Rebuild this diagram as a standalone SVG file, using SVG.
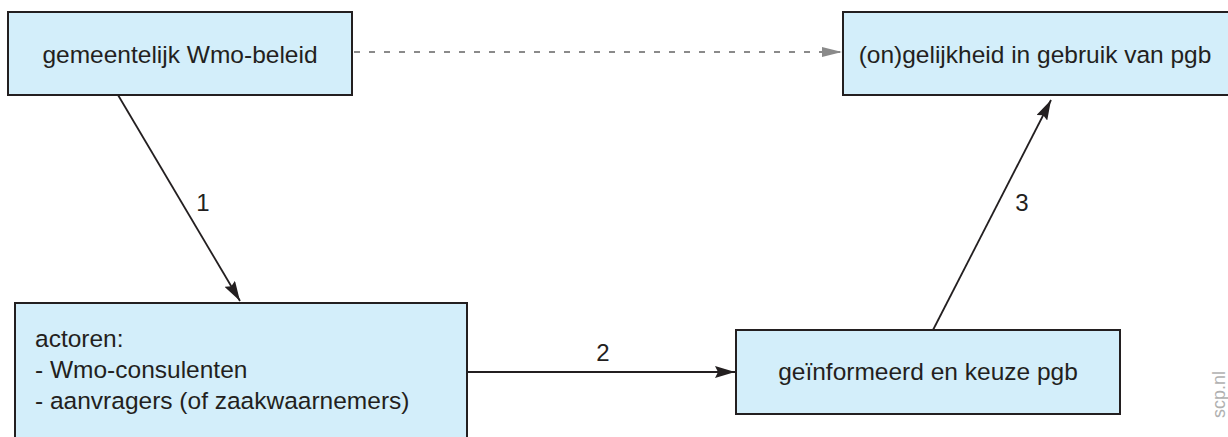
<svg xmlns="http://www.w3.org/2000/svg" width="1228" height="437" viewBox="0 0 1228 437">
<defs>
<style>
.box{fill:#d3eefa;stroke:#231f20;stroke-width:2}
.t{font-family:"Liberation Sans",Arial,sans-serif;font-size:24.5px;fill:#231f20}
.c{text-anchor:middle}
.lbl{font-family:"Liberation Sans",Arial,sans-serif;font-size:24px;fill:#231f20;text-anchor:middle}
.ln{stroke:#231f20;stroke-width:1.8;fill:none}
.dash{stroke:#8a8a8a;stroke-width:2;fill:none;stroke-dasharray:6 9}
</style>
<marker id="ah" viewBox="0 0 20 12" refX="20" refY="6" markerWidth="20" markerHeight="12" markerUnits="userSpaceOnUse" orient="auto">
<path d="M0,0 L20,6 L0,12 L3,6 Z" fill="#231f20"/>
</marker>
<marker id="ahg" viewBox="0 0 20 10" refX="20" refY="5" markerWidth="20" markerHeight="10" markerUnits="userSpaceOnUse" orient="auto">
<path d="M0,0 L20,5 L0,10 Z" fill="#8a8a8a"/>
</marker>
</defs>
<rect width="1228" height="437" fill="#ffffff"/>
<g id="connectors">
<line class="dash" x1="354" y1="52" x2="842" y2="52" marker-end="url(#ahg)"/>
<line class="ln" x1="118" y1="95" x2="240" y2="301" marker-end="url(#ah)"/>
<line class="ln" x1="467" y1="372" x2="735" y2="372" marker-end="url(#ah)"/>
<line class="ln" x1="933" y1="330" x2="1051" y2="100" marker-end="url(#ah)"/>
<text class="lbl" x="203" y="211">1</text>
<text class="lbl" x="603" y="361">2</text>
<text class="lbl" x="1022" y="211">3</text>
</g>
<g id="node-beleid">
<rect class="box" x="8" y="12" width="344" height="83"/>
<text class="t c" x="180" y="63">gemeentelijk Wmo-beleid</text>
</g>
<g id="node-gelijkheid">
<rect class="box" x="843" y="12" width="390" height="83"/>
<text class="t c" x="1035" y="63">(on)gelijkheid in gebruik van pgb</text>
</g>
<g id="node-actoren">
<rect class="box" x="15" y="303" width="452" height="140"/>
<text class="t" x="35" y="347">actoren:</text>
<text class="t" x="35" y="378">- Wmo-consulenten</text>
<text class="t" x="35" y="409">- aanvragers (of zaakwaarnemers)</text>
</g>
<g id="node-keuze">
<rect class="box" x="736" y="330" width="384" height="84"/>
<text class="t c" x="928" y="380">geïnformeerd en keuze pgb</text>
</g>
<text transform="translate(1225,418) rotate(-90)" font-family="'Liberation Sans',Arial,sans-serif" font-size="18" fill="#b0b0b0">scp.nl</text>
</svg>
